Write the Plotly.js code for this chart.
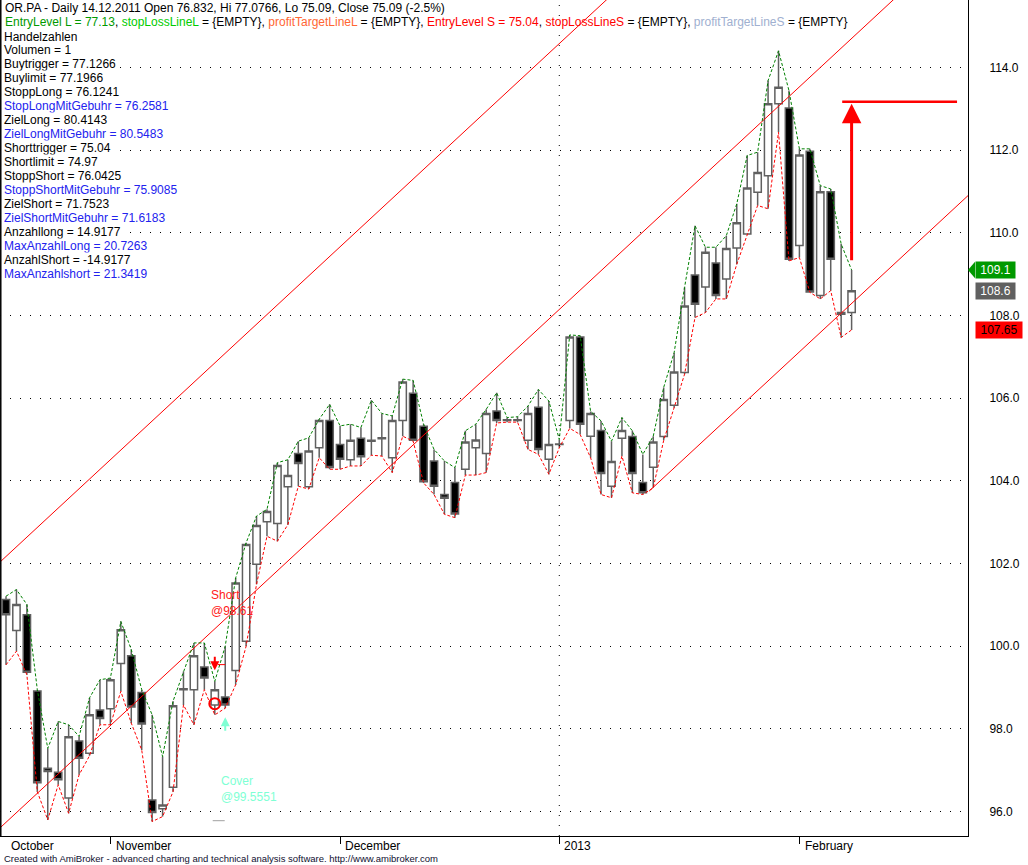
<!DOCTYPE html>
<html>
<head>
<meta charset="utf-8">
<script src="https://cdn.plot.ly/plotly-3.0.1.min.js"></script>
<style>
  body { margin: 0; background: #fff; }
  #chart { width: 1028px; height: 865px; }
</style>
</head>
<body>
<div id="chart"></div>
<script>
// OHLC, one entry per trading day (bar index = position)
var opens  = [101.13,100.38,100.76,98.92,97.05,96.95,96.33,97.71,97.41,98.46,
              98.49,99.58,99.77,98.88,96.28,96.07,96.59,98.95,98.95,99.50,
              98.58,98.77,99.41,100.12,101.98,103.01,102.97,103.86,104.66,103.86,
              104.80,105.46,104.88,104.51,105.03,104.98,105.02,104.56,105.46,106.12,
              105.32,104.48,103.67,103.96,104.28,104.80,104.66,105.69,105.46,105.46,
              104.98,105.78,104.52,104.88,105.46,107.48,105.08,105.22,103.87,105.03,
              105.07,103.96,104.33,105.07,105.83,106.62,108.98,108.69,109.27,108.88,
              109.63,109.97,110.98,111.38,113.12,113.02,109.69,111.97,108.48,110.99,
              108.07,108.07];
var highs  = [101.21,101.37,101.01,98.95,97.53,98.18,98.10,97.82,98.75,99.19,
              99.23,100.60,99.92,98.95,98.34,97.33,98.67,99.39,100.08,100.08,
              99.15,100.00,101.65,102.50,103.15,103.31,104.44,104.51,104.96,105.04,
              105.49,105.85,105.33,105.37,105.29,105.95,105.63,105.57,106.46,106.43,
              105.37,104.76,104.48,104.32,105.21,105.37,105.73,106.13,105.53,105.55,
              105.81,106.21,105.93,105.00,107.53,107.51,105.68,105.45,104.96,105.53,
              105.21,104.64,105.08,106.26,107.10,108.68,110.17,109.65,109.65,109.93,
              110.70,111.87,111.95,113.68,114.40,113.44,112.03,112.03,111.14,111.06,
              109.73,109.10];
var lows   = [99.55,99.88,99.31,96.48,95.80,96.65,95.96,96.89,97.35,98.10,
              98.10,98.91,98.14,97.49,95.76,95.88,96.48,98.58,98.10,98.95,
              98.34,98.50,99.07,100.00,101.50,102.66,102.54,102.94,103.87,103.80,
              104.56,104.28,104.28,104.36,104.36,104.62,104.60,104.20,105.08,104.96,
              103.95,103.67,103.19,103.11,104.14,104.14,104.20,105.40,105.42,105.42,
              104.76,104.64,104.16,104.80,105.27,105.12,104.56,103.67,103.59,104.60,
              103.71,103.67,103.83,104.98,105.77,106.58,107.95,108.07,108.40,108.40,
              109.24,109.95,110.66,110.58,112.43,109.32,109.40,108.56,108.40,108.60,
              107.47,107.65];
var closes = [100.76,101.01,99.37,96.70,96.97,96.77,97.81,97.29,98.34,98.25,
              99.19,100.40,98.53,98.12,95.98,96.16,98.56,98.97,99.77,99.23,
              98.95,98.58,101.53,102.46,102.92,103.26,104.37,104.13,104.42,104.72,
              105.46,104.32,104.52,104.98,104.58,104.96,105.04,105.46,106.39,104.98,
              103.98,103.87,103.58,103.20,104.94,104.99,105.63,105.46,105.48,105.48,
              105.63,104.76,104.88,104.89,107.48,105.37,105.63,104.18,104.47,105.22,
              104.18,103.71,104.94,105.97,106.63,108.23,108.27,109.53,108.48,109.62,
              110.24,111.08,111.46,113.12,113.52,109.36,111.88,108.57,110.99,109.36,
              108.03,108.60];

// month axis
var monthLabels = ['October', 'November', 'December', '2013', 'February'];
var monthStarts = [0, 10, 32, 53, 76];
var yearBreakBar = 53;

// price scale
var priceTicks = [96, 98, 100, 102, 104, 106, 108, 110, 112, 114];

// trend channel lines (bar, price) end points
var upperLineX = [-0.6, 58.7],  upperLineY = [102.03, 115.91];
var middleLineX = [-0.6, 86.0], middleLineY = [95.60, 115.87];
var lowerLineX = [61.6, 92.2],  lowerLineY = [103.75, 110.91];

// trade signals
var shortBar = 20, shortPrice = 98.61;
var coverBar = 21, coverPrice = 99.5551;
var coverMarkPrice = 95.78;

// projected target
var targetBar = 81, targetBase = 109.30, targetPrice = 113.17, targetEnd = 91.1;

// title / info lines
var titleLine = 'OR.PA - Daily 14.12.2011 Open 76.832, Hi 77.0766, Lo 75.09, Close 75.09 (-2.5%)';
var plotLegend = [
  ['EntryLevel L = 77.13', '#009900'], ['stopLossLineL', '#00cc00'],
  ['profitTargetLineL', '#ff6633'], ['EntryLevel S = 75.04', '#ff0000'],
  ['stopLossLineS', '#ff0000'], ['profitTargetLineS', '#a0b0d0']
];
var infoLines = ['Handelzahlen', 'Volumen = 1', 'Buytrigger = 77.1266', 'Buylimit = 77.1966',
  'StoppLong = 76.1241', 'StopLongMitGebuhr = 76.2581', 'ZielLong = 80.4143',
  'ZielLongMitGebuhr = 80.5483', 'Shorttrigger = 75.04', 'Shortlimit = 74.97',
  'StoppShort = 76.0425', 'StoppShortMitGebuhr = 75.9085', 'ZielShort = 71.7523',
  'ZielShortMitGebuhr = 71.6183', 'Anzahllong = 14.9177', 'MaxAnzahlLong = 20.7263',
  'AnzahlShort = -14.9177', 'MaxAnzahlshort = 21.3419'];
var infoBlue = [false, false, false, false, false, true, false, true, false, false,
  false, true, false, true, false, true, false, true];

var FONT = 'Liberation Sans, Arial, sans-serif';
var bars = opens.map(function (v, i) { return i; });

var chanStyle = {color: '#ff0000', width: 1};
var data = [
  {type: 'scatter', mode: 'lines', x: upperLineX, y: upperLineY, line: chanStyle, hoverinfo: 'skip'},
  {type: 'scatter', mode: 'lines', x: middleLineX, y: middleLineY, line: chanStyle, hoverinfo: 'skip'},
  {type: 'scatter', mode: 'lines', x: lowerLineX, y: lowerLineY, line: chanStyle, hoverinfo: 'skip'},
  {
    type: 'candlestick', x: bars, open: opens, high: highs, low: lows, close: closes,
    increasing: {line: {color: '#606060', width: 1.5}, fillcolor: '#ffffff'},
    decreasing: {line: {color: '#606060', width: 1.5}, fillcolor: '#000000'},
    whiskerwidth: 0
  },
  {type: 'scatter', mode: 'lines', x: bars, y: highs,
   line: {color: '#008000', width: 1, dash: '3px,2px'}},
  {type: 'scatter', mode: 'lines', x: bars, y: lows,
   line: {color: '#ff0000', width: 1, dash: '3px,2px'}},
  // short entry circle
  {type: 'scatter', mode: 'markers', x: [shortBar], y: [shortPrice],
   marker: {symbol: 'circle-open', size: 11, color: '#ff0000', line: {width: 2, color: '#ff0000'}}},
  // cover price tick
  {type: 'scatter', mode: 'lines', x: [shortBar + 0.3, coverBar], y: [coverPrice, coverPrice],
   line: {color: '#ff0000', width: 1}},
  {type: 'scatter', mode: 'lines', x: [shortBar - 0.2, coverBar - 0.05], y: [coverMarkPrice, coverMarkPrice],
   line: {color: '#a0a0a0', width: 1}}
];

var annotations = [];
function lineY(px) { return 1 - px / 836; }

annotations.push({xref: 'paper', yref: 'paper', x: 3 / 968, y: lineY(8.5), xanchor: 'left', yanchor: 'middle',
  text: titleLine, showarrow: false, font: {family: FONT, size: 12, color: '#000'}});

var legendHtml = plotLegend.map(function (p, k) {
  var s = '<span style="color:' + p[1] + '">' + p[0] + '</span>';
  if (k === 0 || k === 3) return s + ', ';
  return s + ' = {EMPTY}' + (k < plotLegend.length - 1 ? ', ' : '');
}).join('');
annotations.push({xref: 'paper', yref: 'paper', x: 3 / 968, y: lineY(22.5), xanchor: 'left', yanchor: 'middle',
  text: legendHtml, showarrow: false, font: {family: FONT, size: 12, color: '#000'}});

infoLines.forEach(function (t, k) {
  annotations.push({xref: 'paper', yref: 'paper', x: 3 / 968, y: lineY(36.5 + 13.97 * k),
    xanchor: 'left', yanchor: 'middle', text: t, showarrow: false, bgcolor: '#ffffff', borderpad: 0,
    font: {family: FONT, size: 12, color: infoBlue[k] ? '#2222ee' : '#000'}});
});

// month labels, left aligned after the tick
monthLabels.forEach(function (m, k) {
  annotations.push({xref: 'x', yref: 'paper', x: monthStarts[k] + 0.3, y: lineY(846),
    xanchor: 'left', yanchor: 'middle', text: m, showarrow: false,
    font: {family: FONT, size: 12, color: '#000'}});
});

annotations.push({xref: 'paper', yref: 'paper', x: 2 / 968, y: lineY(858), xanchor: 'left', yanchor: 'middle',
  text: 'Created with AmiBroker - advanced charting and technical analysis software. http://www.amibroker.com',
  showarrow: false, font: {family: FONT, size: 9.5, color: '#101030'}});

// signal arrows and labels
annotations.push({x: shortBar, y: highs[shortBar], xref: 'x', yref: 'y', yshift: 11, ax: 0, ay: -15,
  showarrow: true, arrowhead: 2, arrowsize: 0.9, arrowwidth: 2, arrowcolor: '#ff0000', text: ''});
annotations.push({x: coverBar, y: lows[coverBar], xref: 'x', yref: 'y', yshift: -9, ax: 0, ay: 15,
  showarrow: true, arrowhead: 2, arrowsize: 0.9, arrowwidth: 2, arrowcolor: '#80ffd4', text: ''});
annotations.push({x: shortBar - 0.55, y: 101.04, xref: 'x', yref: 'y', xanchor: 'left', yanchor: 'middle',
  align: 'left', showarrow: false, text: 'Short<br>@' + shortPrice,
  font: {family: FONT, size: 12, color: '#ff2020'}});
annotations.push({x: coverBar - 0.6, y: 96.55, xref: 'x', yref: 'y', xanchor: 'left', yanchor: 'middle',
  align: 'left', showarrow: false, text: 'Cover<br>@' + coverPrice,
  font: {family: FONT, size: 12, color: '#7fffd4'}});

// target arrow
annotations.push({x: targetBar, y: targetPrice - 0.05, xref: 'x', yref: 'y', ax: targetBar, ay: targetBase,
  axref: 'x', ayref: 'y', showarrow: true, arrowhead: 2, arrowsize: 1.3, arrowwidth: 3,
  arrowcolor: '#ff0000', text: ''});

// price boxes on the right scale
var last = closes.length - 1;
var boxes = [
  [highs[last], highs[last].toFixed(1), '#009900', '#ffffff', 37],
  [closes[last], closes[last].toFixed(1), '#606060', '#ffffff', 37],
  [lows[last], lows[last].toFixed(2), '#ff0000', '#000000', 44]
];
boxes.forEach(function (b) {
  annotations.push({xref: 'paper', yref: 'y', x: 975 / 968, y: b[0], xanchor: 'left', yanchor: 'middle',
    text: b[1], showarrow: false, bgcolor: b[2], width: b[4], height: 14, borderpad: 1,
    font: {family: FONT, size: 12, color: b[3]}});
});

var shapes = [
  {type: 'line', xref: 'x', yref: 'paper', x0: yearBreakBar, x1: yearBreakBar, y0: 0, y1: 1,
   line: {color: '#000', width: 1, dash: '1px,9px'}},
  {type: 'line', xref: 'paper', yref: 'paper', x0: 0.0008, x1: 0.0008, y0: 0, y1: 1,
   line: {color: '#000', width: 1.5}},
  {type: 'line', xref: 'x', yref: 'y', x0: targetBar - 0.9, x1: targetEnd, y0: targetPrice, y1: targetPrice,
   line: {color: '#ff0000', width: 2.5}},
  {type: 'path', xref: 'paper', yref: 'y',
   path: 'M ' + (975 / 968) + ',' + (highs[last] + 0.2) + ' L 1,' + highs[last] + ' L ' + (975 / 968) + ',' + (highs[last] - 0.2) + ' Z',
   fillcolor: '#009900', line: {width: 0}}
];

var layout = {
  width: 1028, height: 865,
  margin: {l: 0, r: 60, t: 0, b: 29},
  paper_bgcolor: '#ffffff', plot_bgcolor: '#ffffff',
  showlegend: false,
  font: {family: FONT, size: 12, color: '#000'},
  boxgap: 0.3, boxgroupgap: 0,
  xaxis: {
    range: [-0.575, 92.15], showgrid: false, zeroline: false,
    showline: true, linecolor: '#000', linewidth: 1,
    tickmode: 'array', tickvals: monthStarts.slice(1), ticks: 'outside', ticklen: 7,
    tickcolor: '#000', showticklabels: false, rangeslider: {visible: false}, fixedrange: true
  },
  yaxis: {
    side: 'right', range: [95.41, 115.63], tickmode: 'array', tickvals: priceTicks,
    tickformat: '.1f', showgrid: true, gridcolor: '#000', gridwidth: 1, griddash: '1px,9px',
    zeroline: false, showline: true, linecolor: '#000', linewidth: 1, ticks: '',
    ticklabelstandoff: 18, tickfont: {family: FONT, size: 12, color: '#000'}, fixedrange: true
  },
  annotations: annotations,
  shapes: shapes
};

Plotly.newPlot('chart', data, layout, {staticPlot: true, displayModeBar: false});
</script>
</body>
</html>
